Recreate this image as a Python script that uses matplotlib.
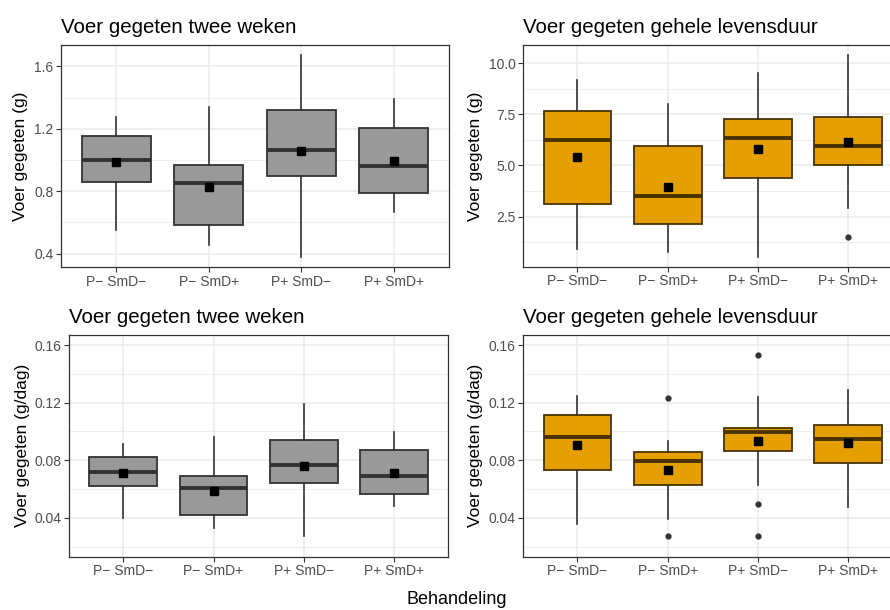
import numpy as np
import matplotlib
matplotlib.use("Agg")
import matplotlib.pyplot as plt
from matplotlib.ticker import MultipleLocator

plt.rcParams['font.family'] = ['Liberation Sans', 'DejaVu Sans']

groepen = ["P\u2212 SmD\u2212", "P\u2212 SmD+", "P+ SmD\u2212", "P+ SmD+"]

# voer gegeten twee weken (g)
tw_g_q1 = [0.858, 0.583, 0.899, 0.790]
tw_g_med = [0.999, 0.852, 1.067, 0.964]
tw_g_q3 = [1.154, 0.969, 1.321, 1.207]
tw_g_lo = [0.549, 0.453, 0.379, 0.668]
tw_g_hi = [1.278, 1.342, 1.672, 1.391]
tw_g_mean = [0.988, 0.824, 1.058, 0.994]
tw_g_out = [[], [], [], []]

# voer gegeten gehele levensduur (g)
lv_g_q1 = [3.10, 2.12, 4.40, 5.02]
lv_g_med = [6.25, 3.49, 6.33, 5.97]
lv_g_q3 = [7.66, 5.97, 7.29, 7.36]
lv_g_lo = [0.93, 0.76, 0.54, 2.92]
lv_g_hi = [9.17, 8.00, 9.50, 10.39]
lv_g_mean = [5.39, 3.96, 5.78, 6.12]
lv_g_out = [[], [], [], [1.48]]

# voer gegeten twee weken (g/dag)
tw_d_q1 = [0.0621, 0.0419, 0.0645, 0.0566]
tw_d_med = [0.0720, 0.0607, 0.0766, 0.0693]
tw_d_q3 = [0.0824, 0.0693, 0.0943, 0.0868]
tw_d_lo = [0.0396, 0.0329, 0.0274, 0.0481]
tw_d_hi = [0.0914, 0.0960, 0.1194, 0.0994]
tw_d_mean = [0.0709, 0.0589, 0.0759, 0.0714]
tw_d_out = [[], [], [], []]

# voer gegeten gehele levensduur (g/dag)
lv_d_q1 = [0.0734, 0.0626, 0.0861, 0.0778]
lv_d_med = [0.0964, 0.0792, 0.0994, 0.0951]
lv_d_q3 = [0.1114, 0.0854, 0.1027, 0.1047]
lv_d_lo = [0.0354, 0.0391, 0.0626, 0.0474]
lv_d_hi = [0.1248, 0.0935, 0.1236, 0.1289]
lv_d_mean = [0.0904, 0.0732, 0.0932, 0.0918]
lv_d_out = [[], [0.1232, 0.0276], [0.1531, 0.0495, 0.0272], []]

g_ticks = [0.4, 0.8, 1.2, 1.6]
g_ticklabels = ["0.4", "0.8", "1.2", "1.6"]
lv_ticks = [2.5, 5.0, 7.5, 10.0]
lv_ticklabels = ["2.5", "5.0", "7.5", "10.0"]
d_ticks = [0.04, 0.08, 0.12, 0.16]
d_ticklabels = ["0.04", "0.08", "0.12", "0.16"]

GRIJS = "#999999"
ORANJE = "#E69F00"


def uitbreiden(lo, hi):
    r = hi - lo
    return lo - 0.05 * r, hi + 0.05 * r


def boxpanel(fig, rect, titel, ylab, q1, med, q3, lo, hi, mean, out,
             fill, edge, ticks, ticklabels, minor, ylim, labx):
    ax = fig.add_axes(rect)
    stats = []
    for i in range(len(groepen)):
        stats.append(dict(q1=q1[i], med=med[i], q3=q3[i], whislo=lo[i],
                          whishi=hi[i], mean=mean[i], fliers=out[i]))
    ax.bxp(stats, positions=[1, 2, 3, 4], widths=0.75, patch_artist=True,
           showcaps=False, showmeans=True,
           boxprops=dict(facecolor=fill, edgecolor=edge, linewidth=1.3),
           medianprops=dict(color=edge, linewidth=2.8, solid_capstyle="butt"),
           whiskerprops=dict(color="#333333", linewidth=1.2),
           meanprops=dict(marker="s", markerfacecolor="black",
                          markeredgecolor="black", markersize=5.5),
           flierprops=dict(marker="o", markerfacecolor="#333333",
                           markeredgecolor="#333333", markersize=3.5))
    ax.set_xlim(0.4, 4.6)
    ax.set_ylim(*ylim)
    ax.set_xticks([1, 2, 3, 4])
    ax.set_xticklabels(groepen)
    ax.set_yticks(ticks)
    ax.set_yticklabels(ticklabels)
    ax.yaxis.set_minor_locator(MultipleLocator(minor))
    ax.tick_params(axis="both", which="major", length=3.5, width=0.8,
                   color="#333333", labelcolor="#4d4d4d", labelsize=10, pad=2)
    ax.tick_params(axis="y", which="minor", length=0)
    ax.set_axisbelow(True)
    ax.grid(True, which="major", color="#ebebeb", linewidth=1.1)
    ax.grid(True, which="minor", axis="y", color="#ebebeb", linewidth=0.6)
    for s in ax.spines.values():
        s.set_color("#333333")
        s.set_linewidth(0.9)
    ax.set_title(titel, loc="left", fontsize=14.8, pad=9)
    ax.set_ylabel(ylab, fontsize=12.5)
    ax.yaxis.set_label_coords(labx, 0.5)
    return ax


fig = plt.figure(figsize=(8.9, 6.1), dpi=100)

boxpanel(fig, [0.0685, 0.5623, 0.436, 0.3639], "Voer gegeten twee weken",
         "Voer gegeten (g)", tw_g_q1, tw_g_med, tw_g_q3, tw_g_lo, tw_g_hi,
         tw_g_mean, tw_g_out, GRIJS, "#333333", g_ticks, g_ticklabels, 0.2,
         uitbreiden(min(tw_g_lo), max(tw_g_hi)), -0.085)

boxpanel(fig, [0.5879, 0.5628, 0.4262, 0.3634], "Voer gegeten gehele levensduur",
         "Voer gegeten (g)", lv_g_q1, lv_g_med, lv_g_q3, lv_g_lo, lv_g_hi,
         lv_g_mean, lv_g_out, ORANJE, "#4a3300", lv_ticks, lv_ticklabels, 1.25,
         uitbreiden(min(lv_g_lo), max(lv_g_hi)), -0.106)

boxpanel(fig, [0.0775, 0.0874, 0.4263, 0.3634], "Voer gegeten twee weken",
         "Voer gegeten (g/dag)", tw_d_q1, tw_d_med, tw_d_q3, tw_d_lo, tw_d_hi,
         tw_d_mean, tw_d_out, GRIJS, "#333333", d_ticks, d_ticklabels, 0.02,
         uitbreiden(0.02, 0.16), -0.103)

boxpanel(fig, [0.5879, 0.0874, 0.4262, 0.3634], "Voer gegeten gehele levensduur",
         "Voer gegeten (g/dag)", lv_d_q1, lv_d_med, lv_d_q3, lv_d_lo, lv_d_hi,
         lv_d_mean, lv_d_out, ORANJE, "#4a3300", d_ticks, d_ticklabels, 0.02,
         uitbreiden(0.02, 0.16), -0.105)

fig.text(457 / 890, 1 - 600 / 610, "Behandeling", ha="center", va="center",
         fontsize=13)

fig.savefig("out.png", dpi=100)
